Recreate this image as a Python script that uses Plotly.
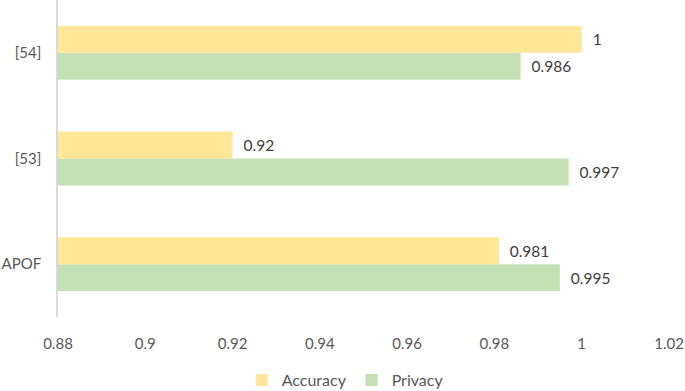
import plotly.graph_objects as go

categories = ["APOF", "[53]", "[54]"]
accuracy = [0.981, 0.92, 1]
privacy = [0.995, 0.997, 0.986]
tick_vals = [0.88, 0.9, 0.92, 0.94, 0.96, 0.98, 1, 1.02]
tick_text = ["0.88", "0.9", "0.92", "0.94", "0.96", "0.98", "1", "1.02"]

font_family = "Lato, Open Sans, sans-serif"

fig = go.Figure()
fig.add_trace(go.Bar(
    y=categories, x=privacy, orientation="h", name="Privacy",
    marker=dict(color="#C5E0B4", line=dict(width=0)),
    text=[str(v) for v in privacy], texttemplate="  %{text}", textposition="outside",
    textfont=dict(size=15.5, color="#404040", family=font_family),
    cliponaxis=False,
))
fig.add_trace(go.Bar(
    y=categories, x=accuracy, orientation="h", name="Accuracy",
    marker=dict(color="#FFE699", line=dict(width=0)),
    text=[str(v) for v in accuracy], texttemplate="  %{text}", textposition="outside",
    textfont=dict(size=15.5, color="#404040", family=font_family),
    cliponaxis=False,
))

fig.update_layout(
    width=685, height=391,
    margin=dict(l=58, r=16, t=0, b=74),
    barmode="group", bargap=0.49, bargroupgap=0,
    plot_bgcolor="white", paper_bgcolor="white",
    font=dict(family=font_family, size=15, color="#595959"),
    legend=dict(orientation="h", x=0.47, xanchor="center",
                yref="container", y=0.028, yanchor="middle",
                traceorder="reversed", font=dict(size=16, color="#595959"),
                itemwidth=30),
    xaxis=dict(range=[0.88, 1.02], tickvals=tick_vals, ticktext=tick_text,
               showgrid=False, zeroline=False, showline=False, ticks="",
               tickfont=dict(size=15, color="#595959"), ticklabelstandoff=16,
               automargin=False),
    yaxis=dict(showgrid=False, zeroline=False, showline=True, linecolor="#D9D9D9",
               linewidth=1.5, ticks="", tickfont=dict(size=15, color="#595959"),
               ticklabelstandoff=12, automargin=False),
)

fig.write_html("out.html", config={"displayModeBar": False},
               post_script="document.body.style.margin='0';")
